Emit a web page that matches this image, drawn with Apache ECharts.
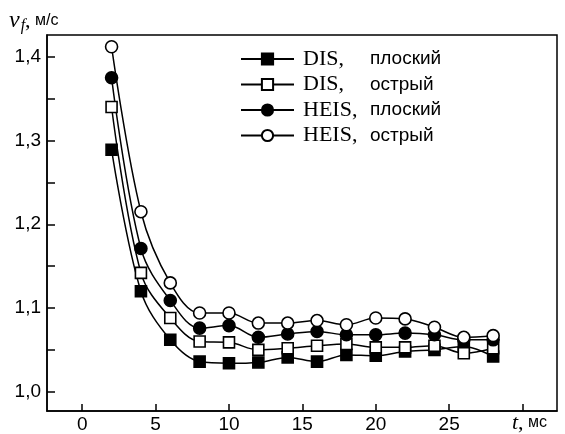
<!DOCTYPE html>
<html>
<head>
<meta charset="utf-8">
<script src="https://cdn.jsdelivr.net/npm/echarts@6/dist/echarts.min.js"></script>
<style>
  html, body { margin: 0; padding: 0; background: #fff; }
  #chart { width: 565px; height: 434px; }
</style>
</head>
<body>
<div id="chart"></div>
<script>
// time, ms
const times = [2, 4, 6, 8, 10, 12, 14, 16, 18, 20, 22, 24, 26, 28];

// front velocity, m/s
const disFlat   = [1.289, 1.120, 1.062, 1.036, 1.034, 1.035, 1.041, 1.036, 1.044, 1.043, 1.048, 1.050, 1.054, 1.042];
const disSharp  = [1.340, 1.142, 1.088, 1.060, 1.059, 1.050, 1.052, 1.055, 1.057, 1.053, 1.053, 1.055, 1.046, 1.052];
const heisFlat  = [1.375, 1.171, 1.109, 1.076, 1.079, 1.065, 1.069, 1.072, 1.068, 1.068, 1.070, 1.068, 1.062, 1.062];
const heisSharp = [1.412, 1.215, 1.130, 1.094, 1.094, 1.082, 1.082, 1.085, 1.080, 1.088, 1.087, 1.077, 1.065, 1.067];

const seriesNames = ['DIS|плоский', 'DIS|острый', 'HEIS|плоский', 'HEIS|острый'];

const xTicks = [0, 5, 10, 15, 20, 25, 30];
const xLabels = [0, 5, 10, 15, 20, 25];
const yTicks = [1.0, 1.05, 1.1, 1.15, 1.2, 1.25, 1.3, 1.35, 1.4];
const yLabels = [1.0, 1.1, 1.2, 1.3, 1.4];

const sans = '"Liberation Sans", Arial, sans-serif';
const serif = '"Liberation Serif", "Times New Roman", serif';

const chart = echarts.init(document.getElementById('chart'));

const makeSeries = (name, vals, symbol, filled) => ({
    name: name,
    type: 'line',
    data: times.map((t, i) => [t, vals[i]]),
    smooth: 0.35,
    symbol: symbol,
    symbolSize: symbol === 'rect' ? 11 : 12,
    showAllSymbol: true,
    lineStyle: { color: '#000', width: 1.5 },
    itemStyle: {
        color: filled ? '#000' : '#fff',
        borderColor: '#000',
        borderWidth: 1.6,
        opacity: 1
    },
    emphasis: { disabled: true },
    animation: false
});

const option = {
    animation: false,
    grid: {
        left: 47, top: 35, right: 8, bottom: 23,
        show: true, borderColor: '#000', borderWidth: 1.5
    },
    xAxis: {
        type: 'value',
        min: -2.4,
        max: 32.35,
        axisLine: { show: true, onZero: false, lineStyle: { color: '#000', width: 1.5 } },
        axisTick: { show: true, inside: true, length: 7, customValues: xTicks, lineStyle: { color: '#000', width: 1.5 } },
        axisLabel: {
            customValues: xLabels,
            color: '#000', fontFamily: sans, fontSize: 19, margin: 4
        },
        splitLine: { show: false }
    },
    yAxis: {
        type: 'value',
        min: 0.977,
        max: 1.426,
        axisLine: { show: true, onZero: false, lineStyle: { color: '#000', width: 1.5 } },
        axisTick: { show: true, inside: true, length: 8, customValues: yTicks, lineStyle: { color: '#000', width: 1.5 } },
        axisLabel: {
            customValues: yLabels,
            color: '#000', fontFamily: sans, fontSize: 19, margin: 6,
            formatter: v => v.toFixed(1).replace('.', ',')
        },
        splitLine: { show: false }
    },
    legend: {
        orient: 'vertical',
        left: 240,
        top: 48,
        padding: 0,
        itemWidth: 53,
        itemHeight: 14,
        itemGap: 3.5,
        selectedMode: false,
        data: seriesNames,
        formatter: name => {
            const [a, b] = name.split('|');
            return '{a|' + a + ',}{b|' + b + '}';
        },
        textStyle: {
            padding: [0, 0, 0, 4],
            rich: {
                a: { fontFamily: serif, fontSize: 22, lineHeight: 22, color: '#000', width: 67 },
                b: { fontFamily: sans, fontSize: 19, lineHeight: 22, color: '#000' }
            }
        }
    },
    graphic: [
        {
            type: 'text', left: 9, top: 9,
            style: {
                text: '{v|v}{f|f}{c|,}{u| м/с}',
                rich: {
                    v: { fontFamily: serif, fontStyle: 'italic', fontSize: 24, color: '#000' },
                    f: { fontFamily: serif, fontStyle: 'italic', fontSize: 16, color: '#000', padding: [10, 0, 0, 1] },
                    c: { fontFamily: serif, fontSize: 22, color: '#000' },
                    u: { fontFamily: sans, fontSize: 16, color: '#000' }
                }
            }
        },
        {
            type: 'text', left: 512, top: 412,
            style: {
                text: '{t|t}{c|,}{u| мс}',
                rich: {
                    t: { fontFamily: serif, fontStyle: 'italic', fontSize: 22, color: '#000' },
                    c: { fontFamily: serif, fontSize: 22, color: '#000' },
                    u: { fontFamily: sans, fontSize: 16, color: '#000' }
                }
            }
        }
    ],
    series: [
        makeSeries(seriesNames[0], disFlat, 'rect', true),
        makeSeries(seriesNames[1], disSharp, 'rect', false),
        makeSeries(seriesNames[2], heisFlat, 'circle', true),
        makeSeries(seriesNames[3], heisSharp, 'circle', false)
    ]
};

chart.setOption(option);
</script>
</body>
</html>
